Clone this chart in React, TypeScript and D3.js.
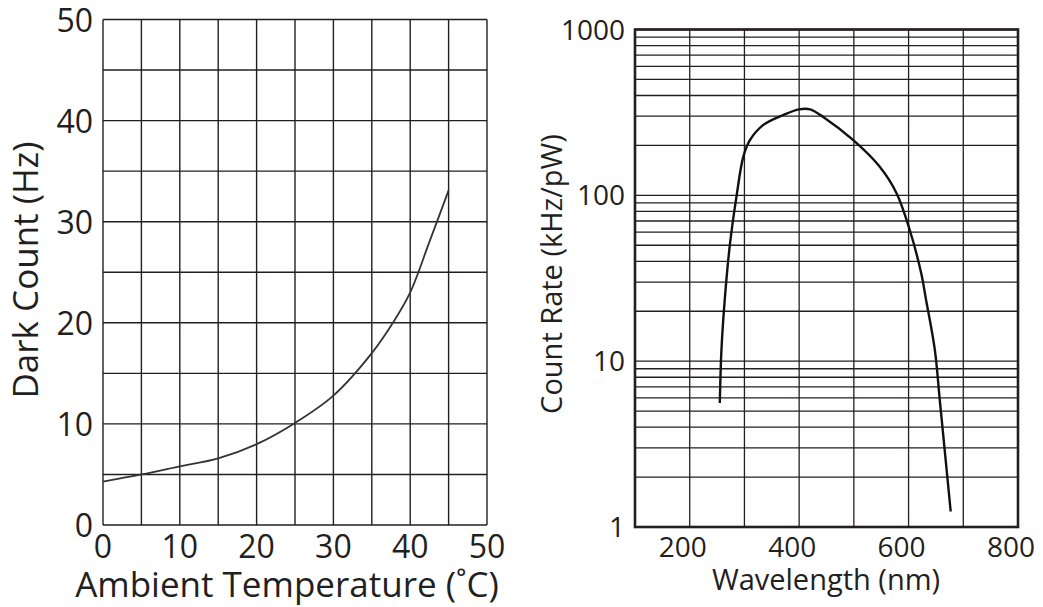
import React from 'react';
import * as d3 from 'd3';

// left panel: dark count vs ambient temperature
const tempC = [0, 5, 10, 15, 20, 25, 30, 35, 38, 40, 42.5, 45];
const darkHz = [4.3, 5.0, 5.8, 6.6, 8.0, 10.1, 12.8, 17.0, 20.3, 23.0, 28, 33.1];
const tempTicks = [0, 10, 20, 30, 40, 50];
const darkTicks = [0, 10, 20, 30, 40, 50];

// right panel: count rate vs wavelength (log y)
const wavelengthNm = [255, 258, 264, 273, 286, 298, 310, 334, 371, 400, 420, 444, 499, 547, 578, 602, 623, 632, 648, 657, 666, 677];
const countRate = [5.6, 11.7, 23.4, 49, 101, 171, 215, 265, 305, 330, 330, 297, 215, 149, 103, 62, 34, 23.4, 11.7, 5.85, 2.92, 1.24];
const waveTicks = [200, 400, 600, 800];
const rateTicks = [1, 10, 100, 1000];

const FONT = '"Open Sans", sans-serif';
const INK = '#231f20';

const W = 1043;
const H = 607;

const App = () => {
  // left scales
  const x1 = d3.scaleLinear().domain([0, 50]).range([103, 487]);
  const y1 = d3.scaleLinear().domain([0, 50]).range([525, 19.5]);
  const grid1 = d3.range(0, 51, 5);
  const line1 = d3.line<number>()
    .x((d, i) => x1(tempC[i]))
    .y(d => y1(d))
    .curve(d3.curveCatmullRom.alpha(0.5));

  // right scales
  const x2 = d3.scaleLinear().domain([100, 800]).range([635, 1018]);
  const y2 = d3.scaleLog().domain([1, 1000]).range([527, 29.5]);
  const gridX2 = d3.range(100, 801, 100);
  const gridY2 = y2.ticks();
  const line2 = d3.line<number>()
    .x((d, i) => x2(wavelengthNm[i]))
    .y(d => y2(d))
    .curve(d3.curveCatmullRom.alpha(0.5));

  return (
    <div style={{ position: 'absolute', left: 0, top: 0 }}>
      <svg width={W} height={H} style={{ display: 'block', background: '#fff' }}>
        {/* ---- left chart ---- */}
        <g stroke={INK} strokeWidth={1.4} fill="none">
          {grid1.map(t => (
            <line key={'v' + t} x1={x1(t)} x2={x1(t)} y1={y1(0)} y2={y1(50)} />
          ))}
          {grid1.map(t => (
            <line key={'h' + t} x1={x1(0)} x2={x1(50)} y1={y1(t)} y2={y1(t)} />
          ))}
        </g>
        <path d={line1(darkHz) || ''} fill="none" stroke="#333" strokeWidth={1.8} />
        <g fontFamily={FONT} fontSize={32} fill={INK}>
          {darkTicks.map(t => (
            <text key={t} x={93} y={y1(t)} dy="0.38em" textAnchor="end">{t}</text>
          ))}
          {tempTicks.map(t => (
            <text key={t} x={x1(t)} y={558} textAnchor="middle">{t}</text>
          ))}
        </g>
        <text x={287} y={597} textAnchor="middle" fontFamily={FONT} fontSize={35} fill={INK}>
          Ambient Temperature (˚C)
        </text>
        <text transform={`translate(38, 270) rotate(-90)`} textAnchor="middle" fontFamily={FONT} fontSize={35} fill={INK}>
          Dark Count (Hz)
        </text>

        {/* ---- right chart ---- */}
        <g stroke={INK} strokeWidth={1.3} fill="none">
          {gridX2.map(t => (
            <line key={'v' + t} x1={x2(t)} x2={x2(t)} y1={y2(1)} y2={y2(1000)} />
          ))}
          {gridY2.map(t => (
            <line key={'h' + t} x1={x2(100)} x2={x2(800)} y1={y2(t)} y2={y2(t)} />
          ))}
        </g>
        <rect x={x2(100)} y={y2(1000)} width={x2(800) - x2(100)} height={y2(1) - y2(1000)}
          fill="none" stroke={INK} strokeWidth={2.6} />
        <path d={line2(countRate) || ''} fill="none" stroke="#111" strokeWidth={2.4} />
        <g fontFamily={FONT} fontSize={28} fill={INK}>
          {rateTicks.map(t => (
            <text key={t} x={625} y={y2(t)} dy="0.36em" textAnchor="end">{t}</text>
          ))}
          {waveTicks.map(t => (
            <text key={t} x={x2(t)} dx={-7} y={557} textAnchor="middle">{t}</text>
          ))}
        </g>
        <text x={826} y={590} textAnchor="middle" fontFamily={FONT} fontSize={29} fill={INK}>
          Wavelength (nm)
        </text>
        <text transform={`translate(562, 274) rotate(-90)`} textAnchor="middle" fontFamily={FONT} fontSize={29} fill={INK}>
          Count Rate (kHz/pW)
        </text>
      </svg>
    </div>
  );
};

export default App;
